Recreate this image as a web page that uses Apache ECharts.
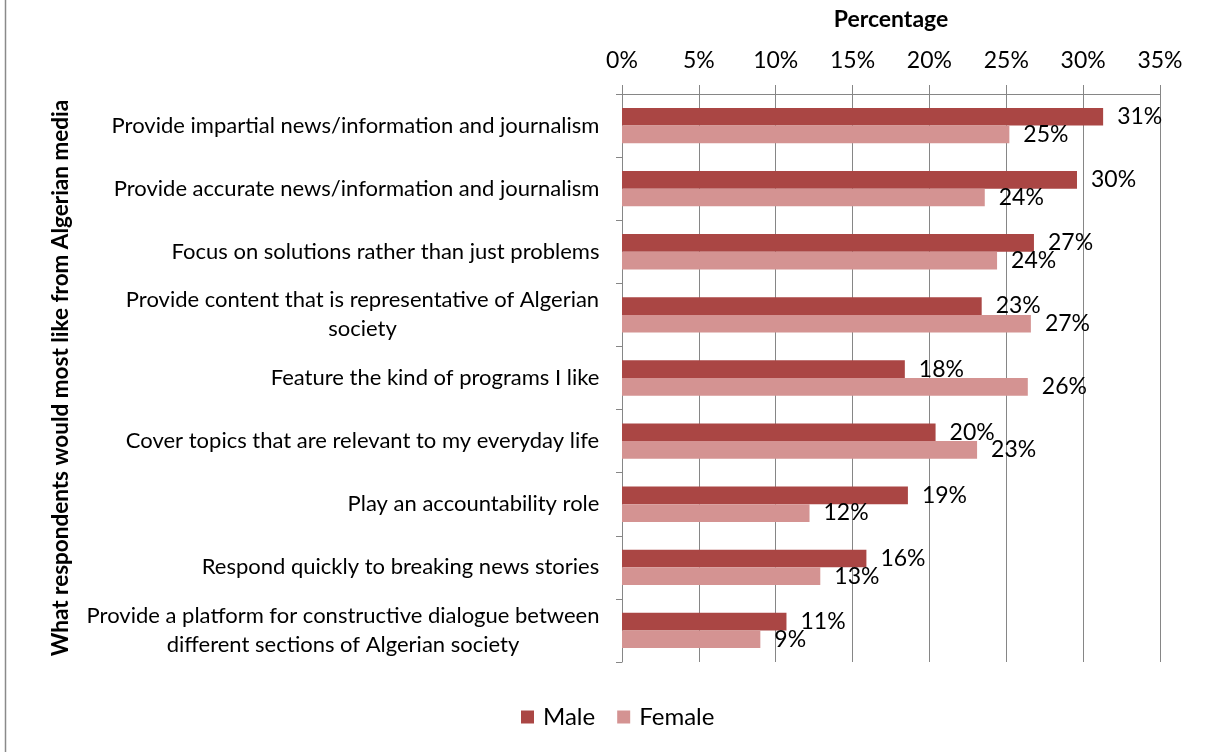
<!DOCTYPE html>
<html>
<head>
<meta charset="utf-8">
<script src="https://cdn.jsdelivr.net/npm/echarts@6/dist/echarts.min.js"></script>
<style>
  html, body { margin: 0; padding: 0; background: #fff; }
  #chart { width: 1209px; height: 752px; }
</style>
</head>
<body>
<div id="chart"></div>
<script>
// What respondents would most like from Algerian media, by gender (percent)
const categories = [
  'Provide impartial news/information and journalism',
  'Provide accurate news/information and journalism',
  'Focus on solutions rather than just problems',
  'Provide content that is representative of Algerian\nsociety',
  'Feature the kind of programs I like',
  'Cover topics that are relevant to my everyday life',
  'Play an accountability role',
  'Respond quickly to breaking news stories',
  'Provide a platform for constructive dialogue between\ndifferent sections of Algerian society'
];
const maleValues   = [31.3, 29.6, 26.8, 23.4, 18.4, 20.4, 18.6, 15.9, 10.7];
const femaleValues = [25.2, 23.6, 24.4, 26.6, 26.4, 23.1, 12.2, 12.9, 9.0];
const seriesNames = ['Male', 'Female'];
const seriesColors = ['#AA4644', '#D49392'];
const axisMin = 0, axisMax = 35, axisStep = 5;

const FONT = 'Lato';
const LABEL_SIZE = 22;

// Multi-line category labels: each line centred within the block,
// the block itself sits right-aligned against the axis.
const measureCtx = document.createElement('canvas').getContext('2d');
measureCtx.font = LABEL_SIZE + 'px ' + FONT;
const richStyles = {};
categories.forEach((c, i) => {
  const lines = c.split('\n');
  const w = Math.max(...lines.map(l => measureCtx.measureText(l).width));
  richStyles['c' + i] = {
    width: Math.ceil(w) + 1, align: 'center',
    fontFamily: FONT, fontSize: LABEL_SIZE, color: '#000', lineHeight: 29
  };
});

const chart = echarts.init(document.getElementById('chart'), null, { renderer: 'canvas' });

const labelStyle = {
  show: true,
  position: 'right',
  distance: 14,
  fontFamily: FONT,
  fontSize: 23,
  color: '#000',
  formatter: p => Math.round(p.value) + '%'
};

chart.setOption({
  animation: false,
  backgroundColor: '#fff',
  textStyle: { fontFamily: FONT },
  graphic: [{
    type: 'line',
    shape: { x1: 5.5, y1: 0, x2: 5.5, y2: 752 },
    style: { stroke: '#8a8a8a', lineWidth: 1.5 }
  }],
  legend: {
    data: seriesNames,
    bottom: 18,
    left: 516,
    icon: 'rect',
    itemWidth: 13,
    itemHeight: 13,
    itemGap: 22,
    itemStyle: { borderWidth: 0 },
    textStyle: { fontFamily: FONT, fontSize: 24, color: '#000', padding: [0, 0, 0, 4] }
  },
  grid: { left: 622, right: 49, top: 94, bottom: 90, containLabel: false },
  xAxis: {
    type: 'value',
    position: 'top',
    min: axisMin,
    max: axisMax,
    interval: axisStep,
    name: 'Percentage',
    nameLocation: 'middle',
    nameGap: 63,
    nameTextStyle: { fontFamily: FONT, fontSize: 23, fontWeight: 'bold', color: '#000' },
    axisLine: { show: true, lineStyle: { color: '#868686', width: 1 } },
    axisTick: { show: true, length: 9, lineStyle: { color: '#868686' } },
    axisLabel: {
      margin: 22,
      fontFamily: FONT, fontSize: 23, color: '#000',
      formatter: '{value}%'
    },
    splitLine: { show: true, lineStyle: { color: '#868686', width: 1 } }
  },
  yAxis: {
    type: 'category',
    data: categories,
    inverse: true,
    name: 'What respondents would most like from Algerian media',
    nameLocation: 'middle',
    nameRotate: 90,
    nameGap: 550,
    nameTextStyle: { fontFamily: FONT, fontSize: 22.5, fontWeight: 'bold', color: '#000' },
    axisLine: { show: true, lineStyle: { color: '#868686', width: 1 } },
    axisTick: { show: true, length: 6, lineStyle: { color: '#868686' } },
    axisLabel: {
      margin: 22,
      align: 'right',
      fontFamily: FONT, fontSize: LABEL_SIZE, color: '#000',
      formatter: (v, i) => v.split('\n').map(l => '{c' + i + '|' + l + '}').join('\n'),
      rich: richStyles
    }
  },
  series: [
    {
      name: seriesNames[0],
      type: 'bar',
      data: maleValues,
      barGap: '0%',
      barCategoryGap: '44%',
      itemStyle: { color: seriesColors[0] },
      label: labelStyle
    },
    {
      name: seriesNames[1],
      type: 'bar',
      data: femaleValues,
      barGap: '0%',
      barCategoryGap: '44%',
      itemStyle: { color: seriesColors[1] },
      label: labelStyle
    }
  ]
});
</script>
</body>
</html>
